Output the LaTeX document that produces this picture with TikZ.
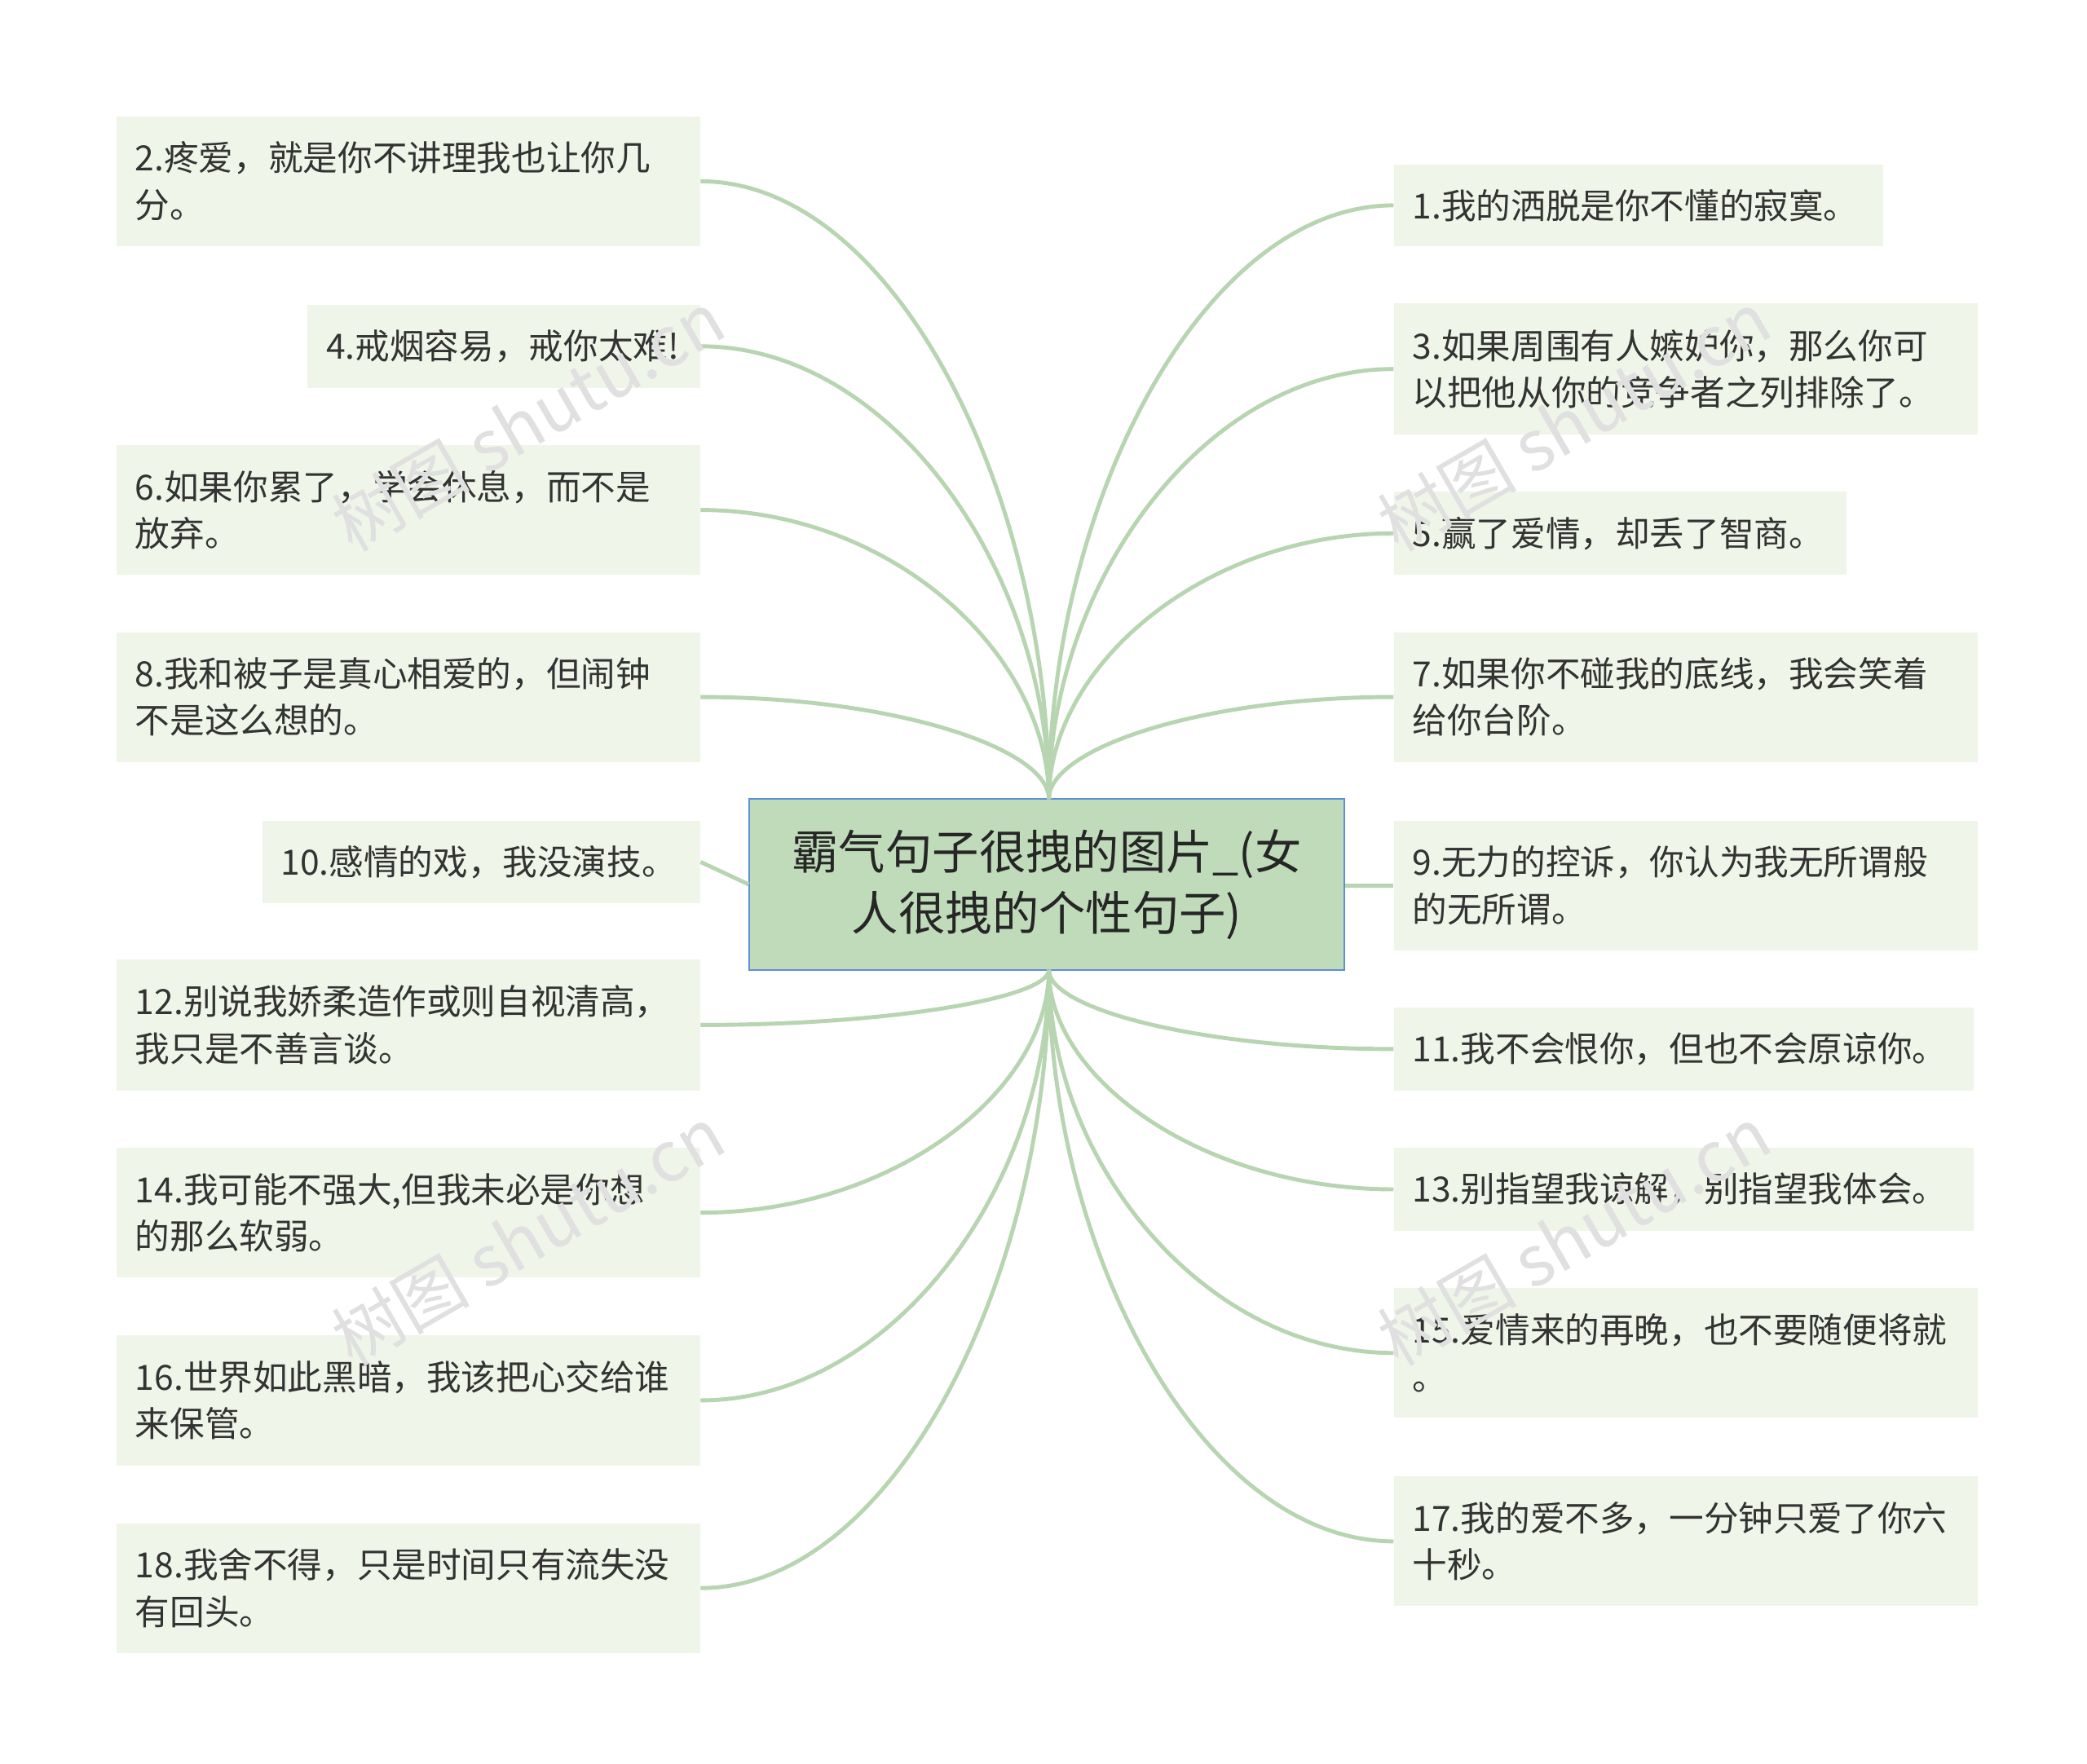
\documentclass[tikz,border=0pt]{standalone}
\usepackage{fontspec}
\setmainfont{Noto Sans CJK SC}
\usetikzlibrary{calc}
\definecolor{boxfill}{HTML}{EFF5E8}
\definecolor{linec}{HTML}{B7D5B1}
\definecolor{cfill}{HTML}{C0DBBA}
\definecolor{cborder}{HTML}{5B8FD8}
\tikzset{
 leafbox/.style={fill=boxfill,draw=none,inner xsep=14pt,align=left,anchor=north west,font=\fontsize{26}{35}\selectfont,text=black!80},
 conn/.style={draw=linec,line width=3pt}
}
\newcommand{\leaf}[6]{\pgfmathsetmacro{\tw}{#4-28}\node[leafbox,minimum width=#4pt,minimum height=#5pt,text width=\tw pt] (#1) at (#2,#3) {#6};}
\newcommand{\curv}[2]{\path[conn] let \p1=(#1),\p2=(#2) in (\p1) .. controls (\x1,{0.5*\y1+0.5*\y2}) and ({0.55*\x1+0.45*\x2},\y2) .. (\p2);}
\begin{document}
\begin{tikzpicture}[x=1pt,y=-1pt]
\useasboundingbox (0,0) rectangle (1562,1320);
\fill[white] (0,0) rectangle (1562,1320);
\node[fill=cfill,draw=cborder,line width=1.2pt,minimum width=445pt,minimum height=128pt,align=center,font=\fontsize{35}{46}\selectfont,text=black!85] (c) at (783.5,662) {霸气句子很拽的图片\_(女\\人很拽的个性句子)};
\coordinate (ct) at (785,598);
\coordinate (cb) at (785,726);
\leaf{n2}{87}{87}{437}{97}{2.疼爱，就是你不讲理我也让你几\\分。}
\leaf{n4}{230}{228}{294}{62}{4.戒烟容易，戒你太难!}
\leaf{n6}{87}{333}{437}{97}{6.如果你累了，学会休息，而不是\\放弃。}
\leaf{n8}{87}{473}{437}{97}{8.我和被子是真心相爱的，但闹钟\\不是这么想的。}
\leaf{n10}{196}{614}{328}{62}{10.感情的戏，我没演技。}
\leaf{n12}{87}{718}{437}{98}{12.别说我娇柔造作或则自视清高，\\我只是不善言谈。}
\leaf{n14}{87}{859}{437}{97}{14.我可能不强大,但我未必是你想\\的那么软弱。}
\leaf{n16}{87}{999}{437}{98}{16.世界如此黑暗，我该把心交给谁\\来保管。}
\leaf{n18}{87}{1140}{437}{97}{18.我舍不得，只是时间只有流失没\\有回头。}
\leaf{n1}{1043}{123}{366}{61}{1.我的洒脱是你不懂的寂寞。}
\leaf{n3}{1043}{227}{437}{98}{3.如果周围有人嫉妒你，那么你可\\以把他从你的竞争者之列排除了。}
\leaf{n5}{1043}{368}{339}{62}{5.赢了爱情，却丢了智商。}
\leaf{n7}{1043}{473}{437}{97}{7.如果你不碰我的底线，我会笑着\\给你台阶。}
\leaf{n9}{1043}{614}{437}{97}{9.无力的控诉，你认为我无所谓般\\的无所谓。}
\leaf{n11}{1043}{754}{434}{62}{11.我不会恨你，但也不会原谅你。}
\leaf{n13}{1043}{859}{434}{62}{13.别指望我谅解，别指望我体会。}
\leaf{n15}{1043}{964}{437}{97}{15.爱情来的再晚，也不要随便将就\\。}
\leaf{n17}{1043}{1105}{437}{97}{17.我的爱不多，一分钟只爱了你六\\十秒。}
\curv{ct}{n2.east}\curv{ct}{n4.east}\curv{ct}{n6.east}\curv{ct}{n8.east}
\curv{cb}{n12.east}\curv{cb}{n14.east}\curv{cb}{n16.east}\curv{cb}{n18.east}
\curv{ct}{n1.west}\curv{ct}{n3.west}\curv{ct}{n5.west}\curv{ct}{n7.west}
\curv{cb}{n11.west}\curv{cb}{n13.west}\curv{cb}{n15.west}\curv{cb}{n17.west}
\draw[conn] (c.west) -- (n10.east);
\draw[conn] (c.east |- n9.west) -- (n9.west);
\foreach \p in {(395,315),(1178,315),(395,925),(1178,925)}
 \node[rotate=30,text=black!12,font=\fontsize{52}{52}\selectfont] at \p {树图 shutu.cn};
\end{tikzpicture}
\end{document}
